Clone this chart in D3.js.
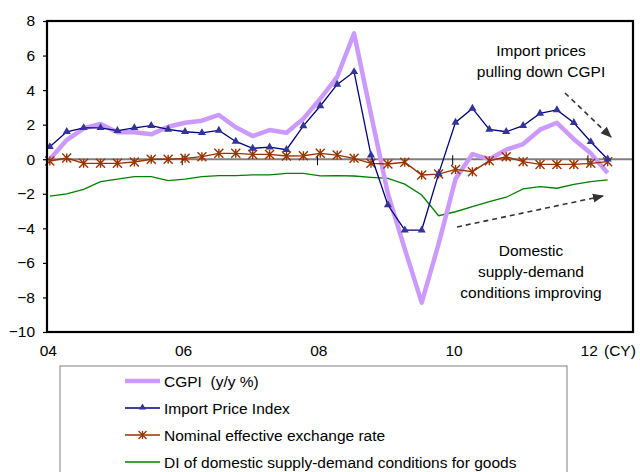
<!DOCTYPE html>
<html>
<head>
<meta charset="utf-8">
<script src="https://cdn.jsdelivr.net/npm/d3@7/dist/d3.min.js"></script>
<style>
  html, body { margin: 0; padding: 0; background: #fff; }
  svg { display: block; font-family: "Liberation Sans", Arial, sans-serif; }
  text { white-space: pre; }
</style>
</head>
<body>
<svg id="chart" width="640" height="472"></svg>
<script>
// Quarterly observations, 2004Q1 .. 2012Q2 (month index = quarter * 3 from Jan 2004)
const quarters = d3.range(34);
const cgpi = [0.0, 1.11, 1.79, 2.04, 1.56, 1.56, 1.44, 1.88, 2.11, 2.23, 2.56, 1.85, 1.34, 1.69, 1.53, 2.35,
              3.5, 4.77, 7.28, 2.6, -2.0, -5.2, -8.3, -4.9, -1.15, 0.3, 0.0, 0.55, 0.88, 1.71, 2.11, 1.16, 0.34, -0.8];
const importPrice = [0.72, 1.59, 1.82, 1.82, 1.65, 1.82, 1.94, 1.73, 1.59, 1.53, 1.67, 1.03, 0.63, 0.7, 0.55, 1.93,
                     3.08, 4.33, 5.06, 0.24, -2.65, -4.1, -4.1, -0.85, 2.13, 2.94, 1.73, 1.59, 1.94, 2.65, 2.85, 2.11, 1.01, 0.0];
const neer = [-0.1, 0.07, -0.24, -0.24, -0.24, -0.16, 0.0, 0.0, 0.05, 0.15, 0.34, 0.34, 0.28, 0.28, 0.19, 0.2,
              0.34, 0.24, 0.05, -0.24, -0.28, -0.18, -0.91, -0.86, -0.59, -0.72, -0.09, 0.14, -0.14, -0.3, -0.3, -0.3, -0.24, -0.14];
const diGoods = [-2.13, -2.01, -1.74, -1.3, -1.15, -1.01, -1.01, -1.24, -1.15, -1.01, -0.95, -0.95, -0.91, -0.91, -0.82, -0.82,
                 -0.96, -0.95, -0.97, -1.05, -1.11, -1.44, -2.07, -3.27, -3.04, -2.75, -2.46, -2.2, -1.72, -1.59, -1.68, -1.45, -1.3, -1.2];
const yTicks = [8, 6, 4, 2, 0, -2, -4, -6, -8, -10];
const xTickLabels = ["04", "06", "08", "10", "12"];
const xTickMonths = [0, 24, 48, 72, 96];
const legendLabels = ["CGPI  (y/y %)", "Import Price Index", "Nominal effective exchange rate", "DI of domestic supply-demand conditions for goods"];

const FS = 15.5;
const svg = d3.select("#chart");
const L = 47, R = 633, T = 21, B = 332;
const x = d3.scaleLinear().domain([-0.5, 103.5]).range([L, R]);
const y = d3.scaleLinear().domain([-10, 8]).range([B, T]);
const xm = i => x(i * 3);

const cPurple = "#cc99ff", cNavy = "#000080", cMarkNavy = "#333399", cBrown = "#993300", cGreen = "#008000";

// zero line
svg.append("line").attr("x1", L).attr("x2", R).attr("y1", y(0)).attr("y2", y(0))
  .attr("stroke", "#808080").attr("stroke-width", 2);
// category ticks on zero line
svg.selectAll(".zt").data(xTickMonths.slice(1)).enter().append("line")
  .attr("x1", d => x(d - 0.5)).attr("x2", d => x(d - 0.5))
  .attr("y1", y(0) - 4).attr("y2", y(0) + 6).attr("stroke", "#000").attr("stroke-width", 1);

// y axis ticks and labels
const yAxis = d3.axisLeft(y).tickValues(yTicks).tickSize(4).tickFormat(d3.format("d"));
const ga = svg.append("g").attr("transform", `translate(${L},0)`).call(yAxis);
ga.select(".domain").remove();
ga.selectAll("line").attr("stroke", "#000").attr("stroke-width", 1.2);
ga.selectAll("text").attr("font-size", FS).attr("fill", "#000").attr("x", -12)
  .attr("font-family", "Liberation Sans, Arial, sans-serif");

// x axis labels
const xAxis = d3.axisBottom(x).tickValues(xTickMonths).tickSize(0).tickFormat((d, i) => xTickLabels[i]);
const gx = svg.append("g").attr("transform", `translate(-2,${B})`).call(xAxis);
gx.select(".domain").remove();
gx.selectAll("text").attr("font-size", FS).attr("fill", "#000").attr("dy", "1.0em").attr("y", 8)
  .attr("font-family", "Liberation Sans, Arial, sans-serif");
svg.append("text").attr("x", 604).attr("y", 356).attr("font-size", FS).text("(CY)");

const line = arr => d3.line().x((d, i) => xm(i)).y(d => y(d))(arr);

// DI (green)
svg.append("path").attr("d", line(diGoods)).attr("fill", "none").attr("stroke", cGreen).attr("stroke-width", 1.3);
// CGPI (purple thick)
svg.append("path").attr("d", line(cgpi)).attr("fill", "none").attr("stroke", cPurple)
  .attr("stroke-width", 4.5).attr("stroke-linejoin", "round");
// NEER
svg.append("path").attr("d", line(neer)).attr("fill", "none").attr("stroke", cBrown).attr("stroke-width", 1.4);
const gs = svg.append("g");
neer.forEach((d, i) => {
  const cx = xm(i), cy = y(d), r = 4.5;
  gs.append("path")
    .attr("d", `M${cx - r},${cy - r}L${cx + r},${cy + r}M${cx - r},${cy + r}L${cx + r},${cy - r}M${cx},${cy - r}V${cy + r}`)
    .attr("stroke", cBrown).attr("stroke-width", 1.4).attr("fill", "none");
});
// Import price
svg.append("path").attr("d", line(importPrice)).attr("fill", "none").attr("stroke", cNavy).attr("stroke-width", 1.3);
const tri = d3.symbol().type(d3.symbolTriangle).size(28);
svg.selectAll(".tri").data(importPrice).enter().append("path")
  .attr("d", tri).attr("transform", (d, i) => `translate(${xm(i)},${y(d)})`).attr("fill", cMarkNavy);

// plot frame
svg.append("rect").attr("x", L).attr("y", T).attr("width", R - L).attr("height", B - T)
  .attr("fill", "none").attr("stroke", "#000").attr("stroke-width", 2.2);

// annotations
const defs = svg.append("defs");
defs.append("marker").attr("id", "ah").attr("viewBox", "0 0 10 10").attr("refX", 9).attr("refY", 5)
  .attr("markerWidth", 7).attr("markerHeight", 7).attr("orient", "auto")
  .append("path").attr("d", "M0,1L10,5L0,9Z").attr("fill", "#333");
svg.append("line").attr("x1", 565).attr("y1", 93).attr("x2", 611).attr("y2", 137)
  .attr("stroke", "#333").attr("stroke-width", 1.6).attr("stroke-dasharray", "5,4").attr("marker-end", "url(#ah)");
svg.append("line").attr("x1", 457).attr("y1", 227).attr("x2", 603).attr("y2", 196)
  .attr("stroke", "#333").attr("stroke-width", 1.6).attr("stroke-dasharray", "5,4").attr("marker-end", "url(#ah)");
const ann = (tx, ty, s) => svg.append("text").attr("x", tx).attr("y", ty).attr("text-anchor", "middle")
  .attr("font-size", FS).attr("fill", "#000").text(s);
ann(541, 56, "Import prices");
ann(541, 77, "pulling down CGPI");
ann(531, 256, "Domestic");
ann(531, 277, "supply-demand");
ann(531, 298, "conditions improving");

// legend
svg.append("rect").attr("x", 60).attr("y", 366).attr("width", 507).attr("height", 120)
  .attr("fill", "#fff").attr("stroke", "#808080").attr("stroke-width", 1);
const ly = [381, 408, 435, 462];
const lg = svg.append("g");
legendLabels.forEach((s, i) => {
  const yy = ly[i];
  const col = [cPurple, cNavy, cBrown, cGreen][i];
  lg.append("line").attr("x1", 125).attr("x2", 160).attr("y1", yy).attr("y2", yy)
    .attr("stroke", col).attr("stroke-width", i === 0 ? 4.5 : 1.3);
  if (i === 1) lg.append("path").attr("d", d3.symbol().type(d3.symbolTriangle).size(22))
    .attr("transform", `translate(142.5,${yy - 0.5})`).attr("fill", cMarkNavy);
  if (i === 2) {
    const r = 4;
    lg.append("path").attr("d", `M${142.5 - r},${yy - r}L${142.5 + r},${yy + r}M${142.5 - r},${yy + r}L${142.5 + r},${yy - r}M142.5,${yy - r}V${yy + r}`)
      .attr("stroke", cBrown).attr("stroke-width", 1.3);
  }
  lg.append("text").attr("x", 164).attr("y", yy + 5.5).attr("font-size", FS).attr("fill", "#000").text(s);
});
</script>
</body>
</html>
